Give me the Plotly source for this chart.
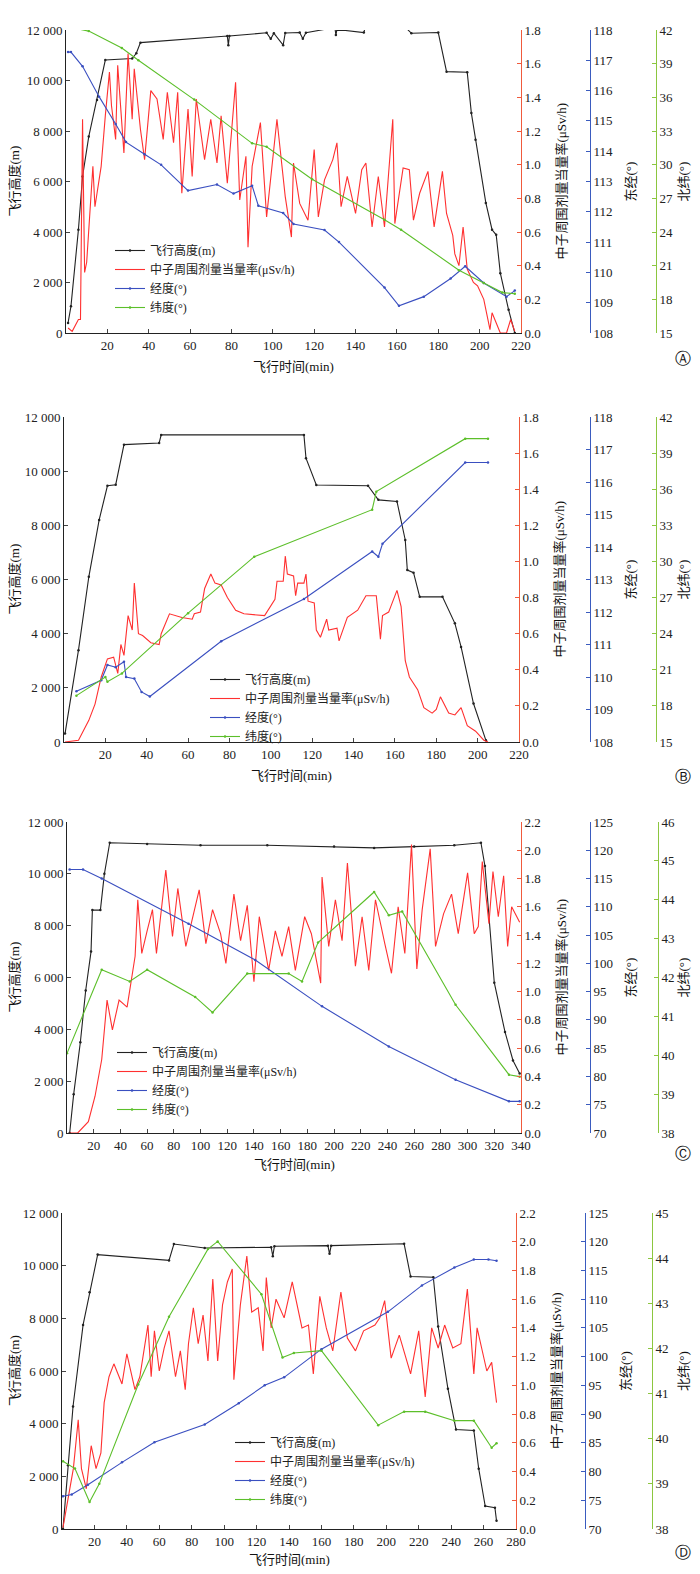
import plotly.graph_objects as go

W, H = 684, 1558   # page is 700x1574; 8px body margin on every side
OFF = 8

# ---------------- Panel A ----------------
A_alt_t = [1, 2.4, 6, 8, 11, 15, 19, 32, 34, 36, 78, 78.5, 79, 97, 99, 100.5, 105, 106, 113, 114.5, 116, 130, 130.5, 131, 144, 144.5, 163, 167, 180, 184, 194, 196, 198, 203, 206, 208, 210, 214, 217]
A_alt = [400, 1060, 4090, 6200, 7780, 9230, 10810, 10870, 11080, 11500, 11760, 11400, 11760, 11890, 11650, 11870, 11400, 11880, 11900, 11650, 11890, 12100, 11800, 12020, 11900, 12050, 12200, 11870, 11900, 10350, 10330, 8710, 7650, 5150, 4090, 3890, 2370, 920, 0]
A_rate_t = [1, 3, 6, 7, 8, 9, 10, 13, 14, 17, 19, 21, 22, 24, 25, 28, 30, 32, 33, 36, 38, 41, 44, 47, 49, 52, 54, 56, 59, 61, 63, 67, 70, 73, 75, 78, 82, 84, 87, 88, 90, 94, 97, 100, 102, 106, 109, 110, 113, 117, 120, 122, 125, 129, 131, 133, 136, 140, 143, 145, 148, 151, 154, 158, 159, 163, 166, 168, 171, 175, 178, 182, 184, 187, 188, 190, 192, 194, 197, 199, 202, 205, 206, 210, 213, 215, 217]
A_rate = [0.03, 0.01, 0.08, 0.08, 1.27, 0.36, 0.42, 0.99, 0.75, 0.99, 1.29, 1.55, 1.35, 1.15, 1.59, 1.07, 1.66, 1.27, 1.57, 1.21, 1.03, 1.44, 1.39, 1.15, 1.43, 1.13, 1.43, 0.83, 1.33, 0.93, 1.39, 1.03, 1.27, 1.01, 1.29, 0.89, 1.49, 0.79, 1.05, 0.51, 0.99, 1.25, 0.69, 1.05, 1.27, 0.81, 0.57, 1.01, 0.77, 0.67, 1.09, 0.69, 0.91, 1.03, 1.13, 0.75, 0.93, 0.71, 0.97, 1.01, 0.63, 0.93, 0.63, 1.27, 0.65, 0.98, 0.97, 0.67, 0.83, 0.96, 0.63, 0.96, 0.71, 0.58, 0.47, 0.40, 0.63, 0.38, 0.30, 0.28, 0.20, 0.02, 0.12, 0.0, 0.0, 0.08, 0.01]
A_lon_t = [1, 2.4, 8, 16, 24, 29, 38, 46, 59, 73, 81, 90, 93, 105, 110, 125, 132, 154, 161, 173, 186, 193, 202, 213, 217]
A_lon = [117.27, 117.27, 116.8, 115.8, 114.9, 114.3, 113.9, 113.55, 112.7, 112.9, 112.6, 112.86, 112.2, 111.96, 111.6, 111.4, 111.0, 109.5, 108.9, 109.2, 109.8, 110.2, 109.65, 109.2, 109.4]
A_lat_t = [1, 3, 11, 27, 35, 62, 90, 97, 119, 154, 162, 190, 202, 211, 217]
A_lat = [42.2, 42.2, 41.9, 40.4, 39.3, 35.8, 31.9, 31.6, 28.7, 25.1, 24.2, 20.6, 19.45, 18.6, 18.5]

# ---------------- Panel B ----------------
B_alt_t = [0.5, 7, 12, 17, 21, 25, 29, 46, 47, 116, 117, 122, 147, 152, 161, 165, 166, 169, 172, 183, 189, 192, 198, 204]
B_alt = [310, 3390, 6100, 8200, 9460, 9500, 10980, 11040, 11340, 11340, 10480, 9490, 9460, 8940, 8880, 7460, 6350, 6250, 5360, 5360, 4380, 3510, 1420, 60]
B_rate_t = [0.5, 7, 12, 15, 18, 21, 24, 26, 27.5, 29, 31, 33, 34, 36, 38, 42, 46, 47, 51, 57, 62, 63, 66, 68, 71, 73, 76, 79, 83, 87, 97, 102, 103, 106, 107, 108, 111, 112, 113, 116, 117, 118, 121, 122, 124, 127, 128, 132, 133, 137, 142, 146, 151, 153, 154, 157, 158, 161, 163, 165, 167, 171, 174, 178, 180, 182, 186, 189, 192, 195, 199, 203, 205]
B_rate = [0.0, 0.01, 0.12, 0.21, 0.36, 0.46, 0.47, 0.38, 0.54, 0.48, 0.70, 0.62, 0.88, 0.60, 0.59, 0.55, 0.54, 0.60, 0.71, 0.69, 0.68, 0.71, 0.72, 0.85, 0.93, 0.88, 0.87, 0.80, 0.73, 0.71, 0.70, 0.79, 0.89, 0.89, 1.03, 0.93, 0.92, 0.81, 0.88, 0.88, 0.93, 0.78, 0.77, 0.62, 0.58, 0.68, 0.62, 0.63, 0.56, 0.69, 0.73, 0.81, 0.81, 0.57, 0.70, 0.72, 0.75, 0.84, 0.75, 0.45, 0.36, 0.29, 0.19, 0.16, 0.18, 0.25, 0.16, 0.15, 0.19, 0.09, 0.06, 0.01, 0.0]
B_lon_t = [6, 18, 21, 25, 29, 30, 34, 37.5, 41.5, 76, 116, 149, 152, 154, 194, 205]
B_lon = [109.56, 109.9, 110.37, 110.3, 110.47, 110.0, 109.95, 109.54, 109.4, 111.1, 112.4, 113.86, 113.7, 114.1, 116.6, 116.6]
B_lat_t = [6, 20, 21, 28, 60, 92, 149, 151, 194, 205]
B_lat = [18.85, 20.4, 20.0, 20.7, 25.7, 30.4, 34.3, 35.8, 40.2, 40.2]

# ---------------- Panel C ----------------
C_alt_t = [2, 5, 10, 14, 18, 19, 25, 28, 32, 60, 100, 150, 200, 230, 260, 290, 310, 313, 320, 328, 334, 339]
C_alt = [0, 1500, 3500, 5500, 7000, 8600, 8600, 10000, 11200, 11150, 11100, 11100, 11050, 11000, 11050, 11100, 11200, 10300, 5800, 3900, 2800, 2300]
C_rate_t = [2, 8, 16, 21, 26, 30, 34, 39, 45, 51, 53, 56, 60, 64, 67, 74, 79, 83, 89, 94, 99, 104, 109, 115, 119, 125, 130, 135, 140, 144, 151, 156, 161, 166, 171, 178, 183, 190, 191, 196, 201, 206, 210, 216, 221, 226, 231, 238, 243, 248, 253, 258, 262, 266, 272, 276, 282, 288, 293, 300, 305, 308, 311, 316, 319, 323, 327, 330, 333, 339]
C_rate = [0.0, 0.0, 0.08, 0.26, 0.52, 0.94, 0.73, 0.94, 0.89, 1.25, 1.65, 1.27, 1.43, 1.58, 1.27, 1.86, 1.39, 1.73, 1.32, 1.53, 1.72, 1.34, 1.58, 1.41, 1.20, 1.69, 1.36, 1.61, 1.07, 1.53, 1.15, 1.43, 1.25, 1.46, 1.15, 1.53, 1.41, 1.06, 1.81, 1.32, 1.65, 1.36, 1.91, 1.18, 1.53, 1.15, 1.65, 1.34, 1.13, 1.60, 1.27, 2.04, 1.16, 1.58, 2.01, 1.32, 1.55, 1.69, 1.41, 1.84, 1.41, 1.46, 1.92, 1.48, 1.85, 1.53, 1.82, 1.32, 1.60, 1.49]
C_lon_t = [2, 12, 26, 91, 141, 191, 241, 291, 331, 339]
C_lon = [116.6, 116.6, 115.0, 107.0, 100.6, 92.4, 85.3, 79.4, 75.6, 75.6]
C_lat_t = [0, 26, 47, 60, 96, 109, 135, 166, 176, 188, 230, 241, 251, 291, 331, 339]
C_lat = [40.05, 42.2, 41.9, 42.2, 41.5, 41.1, 42.1, 42.1, 41.9, 42.9, 44.2, 43.6, 43.7, 41.3, 39.5, 39.45]

# ---------------- Panel D ----------------
D_alt_t = [0.6, 3.7, 6.8, 13, 17, 22, 66, 69, 88, 129, 130, 131, 164, 165, 166, 211, 215, 229, 232, 238, 243, 254, 257, 261, 267, 268]
D_alt = [0, 2420, 4650, 7750, 8990, 10420, 10200, 10820, 10670, 10700, 10360, 10740, 10760, 10450, 10760, 10830, 9590, 9560, 7690, 5330, 3780, 3740, 2290, 870, 810, 310]
D_rate_t = [0.6, 4, 7, 10, 12, 15, 18, 21, 24, 26, 29, 32, 37, 40, 45, 48, 51, 53, 55, 57, 60, 63, 66, 70, 73, 76, 78, 81, 84, 87, 90, 93, 96, 99, 102, 105, 106, 110, 114, 117, 121, 124, 126, 129, 132, 137, 142, 148, 152, 155, 159, 163, 167, 172, 176, 181, 186, 193, 196, 199, 203, 208, 215, 220, 224, 228, 232, 236, 241, 246, 250, 254, 256, 259, 262, 265, 268]
D_rate = [0.01, 0.24, 0.42, 0.76, 0.42, 0.28, 0.58, 0.42, 0.53, 0.88, 1.06, 1.15, 1.01, 1.22, 0.97, 1.06, 1.26, 1.42, 1.06, 1.38, 1.10, 1.26, 1.38, 1.06, 1.24, 0.97, 1.29, 1.54, 1.29, 1.49, 1.17, 1.74, 1.17, 1.56, 1.72, 1.81, 1.04, 1.56, 1.90, 1.51, 1.54, 1.24, 1.75, 1.40, 1.60, 1.47, 1.72, 1.40, 1.42, 1.08, 1.62, 1.40, 1.24, 1.65, 1.33, 1.24, 1.38, 1.42, 1.47, 1.59, 1.19, 1.35, 1.08, 1.38, 0.92, 1.40, 1.26, 1.42, 1.26, 1.29, 1.67, 1.08, 1.40, 1.24, 1.10, 1.16, 0.88]
D_lon_t = [0.6, 6, 16, 37, 57, 88, 109, 125, 137, 160, 201, 222, 242, 254, 263, 268]
D_lon = [75.7, 76.0, 77.7, 81.6, 85.1, 88.2, 91.9, 95.0, 96.4, 101.3, 107.8, 112.4, 115.5, 116.9, 116.9, 116.7]
D_lat_t = [0.6, 8, 17, 23, 47, 66, 90, 96, 123, 136, 143, 160, 195, 211, 224, 242, 254, 265, 268]
D_lat = [39.5, 39.34, 38.6, 39.0, 41.2, 42.7, 44.2, 44.37, 43.2, 41.8, 41.9, 41.95, 40.3, 40.6, 40.6, 40.4, 40.4, 39.8, 39.9]

NAMES = ["飞行高度(m)", "中子周围剂量当量率(μSv/h)", "经度(°)", "纬度(°)"]
COLORS = ["#222222", "#ff3030", "#3a4fc0", "#5cbf2a"]
AXCOL = ["#222222", "#f05a3c", "#3a5bbf", "#8cc63f"]
FONT = "Liberation Serif, Noto Sans CJK SC"

panels = [
    dict(data=[(A_alt_t, A_alt), (A_rate_t, A_rate), (A_lon_t, A_lon), (A_lat_t, A_lat)],
         xr=220, px=(66, 521), py=(30, 333), red=(0, 1.8), blue=(108, 118, 1), green=(15, 42, 3),
         blue_x=590, green_x=656, leg=(110, 236), letter=("Ⓐ", 358), xt=33),
    dict(data=[(B_alt_t, B_alt), (B_rate_t, B_rate), (B_lon_t, B_lon), (B_lat_t, B_lat)],
         xr=220, px=(64, 519), py=(417, 742), red=(0, 1.8), blue=(108, 118, 1), green=(15, 42, 3),
         blue_x=590, green_x=656, leg=(205, 665), letter=("Ⓑ", 777), xt=33),
    dict(data=[(C_alt_t, C_alt), (C_rate_t, C_rate), (C_lon_t, C_lon), (C_lat_t, C_lat)],
         xr=340, px=(67, 521), py=(822, 1133), red=(0, 2.2), blue=(70, 125, 5), green=(38, 46, 1),
         blue_x=590, green_x=658, leg=(112, 1038), letter=("Ⓒ", 1153), xt=31),
    dict(data=[(D_alt_t, D_alt), (D_rate_t, D_rate), (D_lon_t, D_lon), (D_lat_t, D_lat)],
         xr=280, px=(62, 516), py=(1213, 1529), red=(0, 2.2), blue=(70, 125, 5), green=(38, 45, 1),
         blue_x=585, green_x=652, leg=(230, 1428), letter=("Ⓓ", 1552), xt=30),
]


def fx(p):
    return (p - OFF) / W


def fy(p):
    return 1 - (p - OFF) / H


fig = go.Figure()
layout = {}
annotations = []
tickfont = dict(family=FONT, size=13, color="#222")
common = dict(ticks="inside", ticklen=4, showline=True, showgrid=False, zeroline=False,
              tickfont=tickfont, automargin=False)


def note(text, x, y, angle=0, font=None):
    annotations.append(dict(text=text, x=fx(x), y=fy(y), xref="paper", yref="paper",
                            xanchor="center", yanchor="middle", textangle=angle,
                            showarrow=False, font=font))


for i, p in enumerate(panels):
    xn = i + 1
    yb = 4 * i
    xdom = [fx(p["px"][0]), fx(p["px"][1])]
    ydom = [fy(p["py"][1]), fy(p["py"][0])]
    legname = "legend" if i == 0 else "legend%d" % (i + 1)

    for k, (t, v) in enumerate(p["data"]):
        yid = yb + k + 1
        fig.add_trace(go.Scatter(
            x=t, y=v, name=NAMES[k],
            mode="lines" if k == 1 else "lines+markers",
            line=dict(color=COLORS[k], width=1.1),
            marker=dict(size=2.5, color=COLORS[k]),
            xaxis="x" if xn == 1 else "x%d" % xn,
            yaxis="y" if yid == 1 else "y%d" % yid,
            legend=legname,
        ))

    layout[legname] = dict(x=fx(p["leg"][0]), y=fy(p["leg"][1]), xanchor="left", yanchor="top",
                           bgcolor="rgba(0,0,0,0)", font=dict(family=FONT, size=12, color="#222"),
                           tracegroupgap=0, itemwidth=30)

    def yk(n):
        return "yaxis" if n == 1 else "yaxis%d" % n

    xa = "x" if xn == 1 else "x%d" % xn
    ya = "y" if yb == 0 else "y%d" % (yb + 1)
    xk = "xaxis" if xn == 1 else "xaxis%d" % xn
    layout[xk] = dict(domain=xdom, range=[0, p["xr"]], anchor=ya,
                      tickvals=list(range(20, p["xr"] + 1, 20)), linecolor="#222", **common)

    alt_vals = list(range(0, 12001, 2000))
    layout[yk(yb + 1)] = dict(domain=ydom, range=[0, 12000], anchor=xa, tickvals=alt_vals,
                              ticktext=[("%d" % v if v < 1000 else "%d %03d" % (v // 1000, v % 1000)) for v in alt_vals],
                              linecolor="#222", **common)
    r0, r1 = p["red"]
    rv = [round(0.2 * j, 1) for j in range(int(round(r1 / 0.2)) + 1)]
    layout[yk(yb + 2)] = dict(range=[r0, r1], overlaying=ya, side="right", anchor=xa,
                              tickvals=rv, ticktext=["%.1f" % v for v in rv],
                              linecolor=AXCOL[1], tickcolor=AXCOL[1], **common)
    b0, b1, bs = p["blue"]
    layout[yk(yb + 3)] = dict(range=[b0, b1], overlaying=ya, side="right", anchor="free",
                              position=fx(p["blue_x"]), tickvals=list(range(b0, b1 + 1, bs)),
                              linecolor=AXCOL[2], tickcolor=AXCOL[2], **common)
    g0, g1, gs = p["green"]
    layout[yk(yb + 4)] = dict(range=[g0, g1], overlaying=ya, side="right", anchor="free",
                              position=fx(p["green_x"]), tickvals=list(range(g0, g1 + 1, gs)),
                              linecolor=AXCOL[3], tickcolor=AXCOL[3], **common)

    ymid = (p["py"][0] + p["py"][1]) / 2
    tf = dict(family=FONT, size=13, color="#111")
    for txt, xp in [("飞行高度(m)", 14), ("中子周围剂量当量率(μSv/h)", p["px"][1] + 40),
                    ("东经(°)", p["blue_x"] + 40), ("北纬(°)", 683)]:
        note(txt, xp, ymid, -90, tf)
    note("飞行时间(min)", (p["px"][0] + p["px"][1]) / 2, p["py"][1] + p["xt"], 0, tf)
    note(p["letter"][0], 683, p["letter"][1], 0,
         dict(family="DejaVu Sans", size=16, color="#111"))

fig.update_layout(width=W, height=H, margin=dict(l=0, r=0, t=0, b=0, autoexpand=False),
                  paper_bgcolor="white", plot_bgcolor="white", annotations=annotations,
                  **layout)
fig.write_html("out.html")
